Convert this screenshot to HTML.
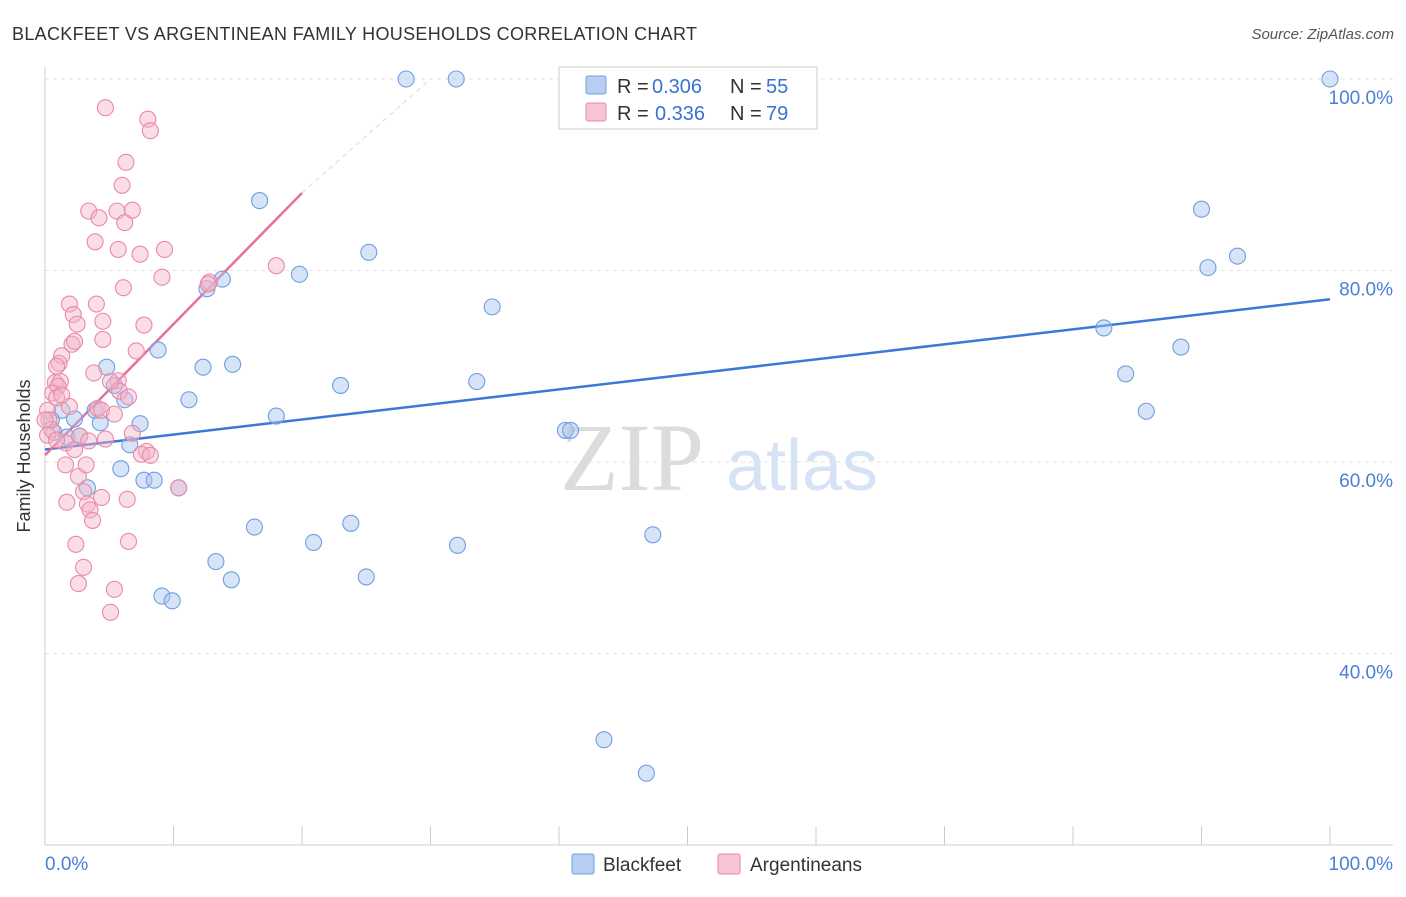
<!DOCTYPE html>
<html><head><meta charset="utf-8">
<style>
body{margin:0;background:#fff;font-family:"Liberation Sans",sans-serif;}
svg text{font-family:"Liberation Sans",sans-serif;}
</style></head>
<body>
<svg id="chart" width="1406" height="892" viewBox="0 0 1406 892" xmlns="http://www.w3.org/2000/svg">
<text x="12" y="40" font-size="18" fill="#333" textLength="685">BLACKFEET VS ARGENTINEAN FAMILY HOUSEHOLDS CORRELATION CHART</text>
<text x="1394" y="39" font-size="15" fill="#555" text-anchor="end" font-style="italic">Source: ZipAtlas.com</text>
<g id="grid"></g>
<g>
<text x="632" y="490" font-size="96" fill="#dcdcdc" text-anchor="middle" font-family="Liberation Serif" style="font-family:'Liberation Serif',serif">ZIP</text>
<text x="802" y="490" font-size="72" fill="#d6e3f5" text-anchor="middle">atlas</text>
</g>
<g id="axes"></g>
<g id="lines"></g>
<g id="points"></g>
<text x="30" y="456" font-size="18" fill="#333" text-anchor="middle" transform="rotate(-90 30 456)">Family Households</text>
<g>
<rect x="559" y="67" width="258" height="62" fill="#fff" stroke="#ccc"/>
<rect x="586" y="76" width="20" height="18" fill="#b5cef2" stroke="#6f9fe0" rx="2"/>
<rect x="586" y="103" width="20" height="18" fill="#f8c3d3" stroke="#e98aa7" rx="2"/>
<text x="617" y="93" font-size="20" fill="#333">R = </text>
<text x="652" y="93" font-size="20" fill="#3b72d0">0.306</text>
<text x="730" y="93" font-size="20" fill="#333">N = </text>
<text x="766" y="93" font-size="20" fill="#3b72d0">55</text>
<text x="617" y="120" font-size="20" fill="#333">R = </text>
<text x="655" y="120" font-size="20" fill="#3b72d0">0.336</text>
<text x="730" y="120" font-size="20" fill="#333">N = </text>
<text x="766" y="120" font-size="20" fill="#3b72d0">79</text>
</g>
<g>
<rect x="572" y="854" width="22" height="20" fill="#b5cef2" stroke="#6f9fe0" rx="2"/>
<text x="603" y="871" font-size="19" fill="#333">Blackfeet</text>
<rect x="718" y="854" width="22" height="20" fill="#f8c3d3" stroke="#e98aa7" rx="2"/>
<text x="750" y="871" font-size="19" fill="#333">Argentineans</text>
</g>
</svg>
<script>
const blueX=[28.1,32.0,100,16.7,90.0,92.8,90.5,25.2,13.8,12.6,19.8,34.8,82.4,88.4,8.8,4.8,12.3,14.6,84.1,5.4,23.0,33.6,11.2,6.2,85.7,3.9,1.3,18.0,4.3,7.4,2.3,0.7,1.7,2.7,40.5,40.9,6.6,5.9,3.3,7.7,8.5,10.4,16.3,23.8,20.9,32.1,47.3,13.3,25.0,14.5,9.1,9.9,43.5,46.8,0.5];
const blueY=[100,100,100,87.3,86.4,81.5,80.3,81.9,79.1,78.1,79.6,76.2,74.0,72.0,71.7,69.9,69.9,70.2,69.2,68.0,68.0,68.4,66.5,66.5,65.3,65.4,65.4,64.8,64.1,64.0,64.5,63.1,62.6,62.7,63.3,63.3,61.8,59.3,57.3,58.1,58.1,57.3,53.2,53.6,51.6,51.3,52.4,49.6,48.0,47.7,46.0,45.5,31.0,27.5,64.4];
const pinkX=[4.7,8.0,8.2,6.3,6.0,3.4,6.8,5.6,4.2,6.2,3.9,5.7,7.4,9.3,9.1,12.8,12.7,18.0,6.1,1.9,4.0,2.2,4.5,2.5,7.7,2.1,2.3,4.5,7.1,1.3,1.1,0.9,3.8,0.8,1.2,1.0,5.7,0.6,5.8,0.9,6.5,1.9,4.1,4.4,0.2,5.4,0.3,0.5,6.8,2.7,4.7,3.4,1.6,2.3,7.9,7.5,1.6,2.6,10.4,3.0,4.4,6.4,1.7,3.3,3.5,3.7,6.5,2.4,3.0,2.6,5.4,5.1,0,0.2,0.9,8.2,5.1,1.3,3.2];
const pinkY=[97.0,95.8,94.6,91.3,88.9,86.2,86.3,86.2,85.5,85.0,83.0,82.2,81.7,82.2,79.3,78.8,78.6,80.5,78.2,76.5,76.5,75.4,74.7,74.4,74.3,72.3,72.6,72.8,71.6,71.1,70.3,70.0,69.3,68.3,68.4,67.9,68.5,67.2,67.4,66.7,66.8,65.8,65.6,65.4,65.4,65.0,64.4,63.4,63.0,62.7,62.4,62.2,62.0,61.3,61.1,60.8,59.7,58.5,57.3,56.9,56.3,56.1,55.8,55.6,55.0,53.9,51.7,51.4,49.0,47.3,46.7,44.3,64.4,62.8,62.3,60.7,68.4,67.0,59.7];
const blueTrend=[61.3,77.0];
const pinkTrend=[60.7,88.1];
const yTicks=[100,80,60,40];
const yTickLabels=["100.0%","80.0%","60.0%","40.0%"];
const NS='http://www.w3.org/2000/svg';
const X=v=>45+v*12.85, Y=v=>79+(100-v)*9.575;
function mk(t,a,p){const e=document.createElementNS(NS,t);for(const k in a)e.setAttribute(k,a[k]);p.appendChild(e);return e;}
const grid=document.getElementById('grid'),axes=document.getElementById('axes'),lines=document.getElementById('lines'),pts=document.getElementById('points');
yTicks.forEach((v,i)=>{
 const l=mk('line',{x1:45,x2:1393,y1:Y(v),y2:Y(v),stroke:'#e2e2e2','stroke-dasharray':'4,4'},grid);
 
 
 const t=mk('text',{x:1393,y:Y(v)+25,'font-size':19,fill:'#4a7fd4','text-anchor':'end'},axes);
 t.textContent=yTickLabels[i];
 
 
});
mk('line',{x1:45,x2:45,y1:67,y2:845,stroke:'#ccc'},axes);
mk('line',{x1:45,x2:1393,y1:845,y2:845,stroke:'#ccc'},axes);
for(let i=0;i<=10;i++){mk('line',{x1:X(i*10),x2:X(i*10),y1:826,y2:845,stroke:'#ccc'},axes);}
let t=mk('text',{x:45,y:870,'font-size':19,fill:'#4a7fd4'},axes);t.textContent='0.0%';


t=mk('text',{x:1393,y:870,'font-size':19,fill:'#4a7fd4','text-anchor':'end'},axes);t.textContent='100.0%';


const pinkAt=x=>pinkTrend[0]+(pinkTrend[1]-pinkTrend[0])*x/20;
let l=mk('line',{x1:X(20),y1:Y(pinkAt(20)),x2:X(30),y2:Y(Math.min(100,pinkAt(30))),stroke:'#e0e0e0','stroke-dasharray':'5,4','stroke-width':1.2},lines);


function drawPts(xs,ys,fill,stroke,name){xs.forEach((x,i)=>{const c=mk('circle',{cx:X(x),cy:Y(ys[i]),r:8,fill:fill,'fill-opacity':0.45,stroke:stroke,'stroke-width':1.1},pts);
 
 });}
drawPts(blueX,blueY,'#a7c4ee','#6f9fe0','blackfeet-point');
drawPts(pinkX,pinkY,'#f5b3c8','#e98aa7','argentinean-point');
l=mk('line',{x1:X(0),y1:Y(blueTrend[0]),x2:X(100),y2:Y(blueTrend[1]),stroke:'#3b78d8','stroke-width':2.5},lines);


l=mk('line',{x1:X(0),y1:Y(pinkTrend[0]),x2:X(20),y2:Y(pinkTrend[1]),stroke:'#e8709a','stroke-width':2.5},lines);


</script>
</body></html>
